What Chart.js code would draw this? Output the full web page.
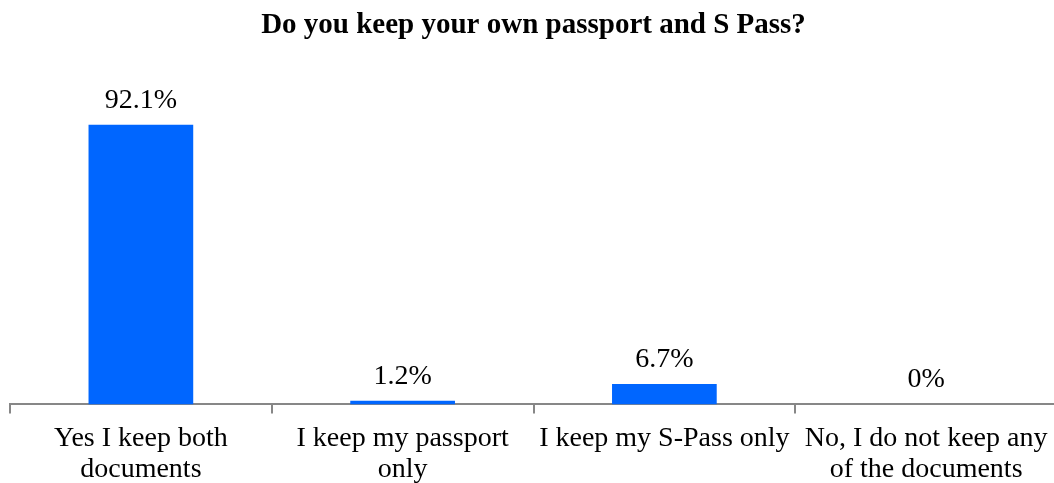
<!DOCTYPE html>
<html>
<head>
<meta charset="utf-8">
<script src="https://cdn.jsdelivr.net/npm/chart.js@4"></script>
<style>
html,body{margin:0;padding:0;background:#fff;overflow:hidden;}
#wrap{width:1054px;height:483px;overflow:hidden;}
</style>
</head>
<body>
<div id="wrap"><canvas id="c" width="1058" height="495"></canvas></div>
<script>
const titleText = "Do you keep your own passport and S Pass?";
const categories = [
  ["Yes I keep both", "documents"],
  ["I keep my passport", "only"],
  ["I keep my S-Pass only"],
  ["No, I do not keep any", "of the documents"]
];
const percentValues = [92.1, 1.2, 6.7, 0];

const valueLabelPlugin = {
  id: 'valueLabels',
  afterDatasetsDraw(chart) {
    const ctx = chart.ctx;
    const meta = chart.getDatasetMeta(0);
    ctx.save();
    ctx.font = '28px "Liberation Serif", "Times New Roman", serif';
    ctx.fillStyle = '#000';
    ctx.textAlign = 'center';
    ctx.textBaseline = 'alphabetic';
    meta.data.forEach((bar, i) => {
      ctx.fillText(percentValues[i] + '%', bar.x, bar.y - 17);
    });
    ctx.restore();
  }
};

new Chart(document.getElementById('c'), {
  type: 'bar',
  data: {
    labels: categories,
    datasets: [{
      data: percentValues,
      backgroundColor: '#0066FF',
      borderWidth: 0,
      categoryPercentage: 1.0,
      barPercentage: 0.4
    }]
  },
  options: {
    responsive: false,
    animation: false,
    events: [],
    layout: { padding: { left: 10, right: 1, top: 0, bottom: 0 } },
    plugins: {
      legend: { display: false },
      tooltip: { enabled: false },
      title: {
        display: true,
        text: titleText,
        color: '#000',
        font: { family: '"Liberation Serif", "Times New Roman", serif', size: 29, weight: 'bold', lineHeight: 1.2 },
        padding: { top: 8, bottom: 58 }
      }
    },
    scales: {
      x: {
        grid: {
          offset: true,
          drawOnChartArea: false,
          drawTicks: true,
          tickLength: 9,
          color: '#878787',
          lineWidth: 2
        },
        border: { display: true, color: '#878787', width: 2 },
        ticks: {
          color: '#000',
          padding: 10,
          maxRotation: 0,
          autoSkip: false,
          font: { family: '"Liberation Serif", "Times New Roman", serif', size: 28, lineHeight: 1.1 }
        }
      },
      y: {
        display: false,
        min: 0,
        max: 100
      }
    }
  },
  plugins: [valueLabelPlugin]
});
</script>
</body>
</html>
